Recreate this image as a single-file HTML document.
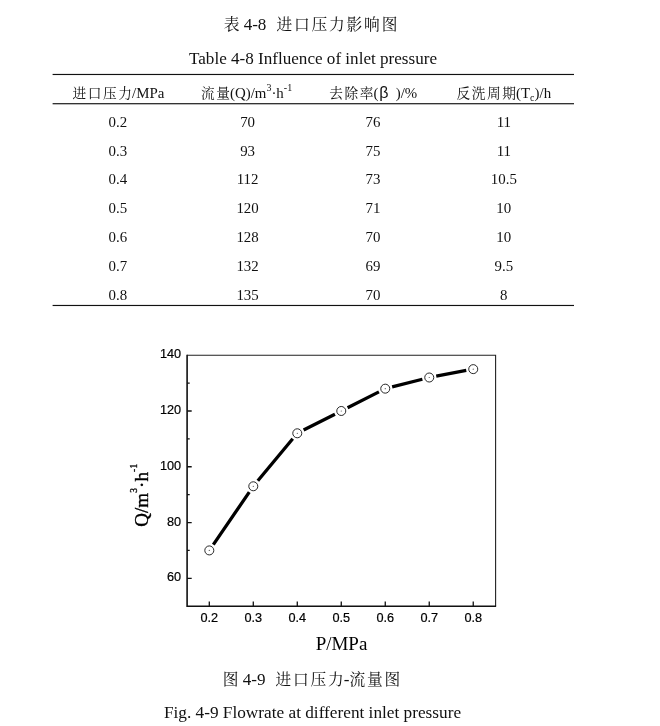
<!DOCTYPE html>
<html lang="zh"><head><meta charset="utf-8"><title>表 4-8 进口压力影响图</title>
<style>
html,body{margin:0;padding:0;background:#fff}
body{width:660px;height:726px;position:relative;overflow:hidden;color:#111;font-family:"Liberation Serif","Noto Serif CJK SC",serif}
text{white-space:pre;fill:#111}
.t1{font:17.1px "Liberation Serif","Noto Serif CJK SC",serif}
.c{font:14.9px "Liberation Serif","Noto Serif CJK SC",serif}
.t2{font-size:17.25px}
.s{font-size:10px}
.cj{font-size:92%;letter-spacing:0.115em}
.cl{font-size:92%}
.beta{font-family:"Liberation Sans",sans-serif;font-size:16px}
.tk{font:12.7px "Liberation Sans",sans-serif;fill:#000;stroke:#000;stroke-width:0.2px}
.ax{font:19px "Liberation Serif",serif;fill:#000}
.ay{letter-spacing:0.1px;stroke:#000;stroke-width:0.35px}
.sp{font-size:9.5px}
</style></head><body>

<svg width="660" height="726" viewBox="0 0 660 726" style="position:absolute;left:0;top:0">
<path d="M187.1 355.2H495.6V606.2" fill="none" stroke="#222" stroke-width="1.1"/>
<path d="M187.1 354.7V606.2H496.1" fill="none" stroke="#111" stroke-width="1.6"/>
<path d="M187.1 578.31h4.6M187.1 522.53h4.6M187.1 466.76h4.6M187.1 410.98h4.6M187.1 550.42h2.6M187.1 494.64h2.6M187.1 438.87h2.6M187.1 383.09h2.6M209.30 606.2v-4.8M253.29 606.2v-4.8M297.28 606.2v-4.8M341.27 606.2v-4.8M385.26 606.2v-4.8M429.25 606.2v-4.8M473.24 606.2v-4.8" fill="none" stroke="#111" stroke-width="1.3"/>
<path d="M213.32 544.57L249.27 492.13M257.83 480.81L292.74 438.75M303.61 430.08L334.94 414.19M347.60 407.77L378.93 391.88M392.14 386.92L422.37 379.26M436.22 376.18L466.27 370.47" fill="none" stroke="#000" stroke-width="3.3"/>
<circle cx="209.30" cy="550.42" r="4.5" fill="#fff" stroke="#111" stroke-width="0.9"/>
<circle cx="209.30" cy="550.42" r="0.6" fill="#555"/>
<circle cx="253.29" cy="486.28" r="4.5" fill="#fff" stroke="#111" stroke-width="0.9"/>
<circle cx="253.29" cy="486.28" r="0.6" fill="#555"/>
<circle cx="297.28" cy="433.29" r="4.5" fill="#fff" stroke="#111" stroke-width="0.9"/>
<circle cx="297.28" cy="433.29" r="0.6" fill="#555"/>
<circle cx="341.27" cy="410.98" r="4.5" fill="#fff" stroke="#111" stroke-width="0.9"/>
<circle cx="341.27" cy="410.98" r="0.6" fill="#555"/>
<circle cx="385.26" cy="388.67" r="4.5" fill="#fff" stroke="#111" stroke-width="0.9"/>
<circle cx="385.26" cy="388.67" r="0.6" fill="#555"/>
<circle cx="429.25" cy="377.51" r="4.5" fill="#fff" stroke="#111" stroke-width="0.9"/>
<circle cx="429.25" cy="377.51" r="0.6" fill="#555"/>
<circle cx="473.24" cy="369.14" r="4.5" fill="#fff" stroke="#111" stroke-width="0.9"/>
<circle cx="473.24" cy="369.14" r="0.6" fill="#555"/>
<text x="181.1" y="581.3" text-anchor="end" class="tk">60</text>
<text x="181.1" y="525.5" text-anchor="end" class="tk">80</text>
<text x="181.1" y="469.8" text-anchor="end" class="tk">100</text>
<text x="181.1" y="414.0" text-anchor="end" class="tk">120</text>
<text x="181.1" y="358.2" text-anchor="end" class="tk">140</text>
<text x="209.3" y="622" text-anchor="middle" class="tk">0.2</text>
<text x="253.3" y="622" text-anchor="middle" class="tk">0.3</text>
<text x="297.3" y="622" text-anchor="middle" class="tk">0.4</text>
<text x="341.3" y="622" text-anchor="middle" class="tk">0.5</text>
<text x="385.3" y="622" text-anchor="middle" class="tk">0.6</text>
<text x="429.2" y="622" text-anchor="middle" class="tk">0.7</text>
<text x="473.2" y="622" text-anchor="middle" class="tk">0.8</text>
<text x="341.5" y="649.7" text-anchor="middle" class="ax">P/MPa</text>
<text transform="translate(147.5 495.3) rotate(-90)" text-anchor="middle" class="ax ay">Q/m<tspan class="sp" dy="-10.5">3</tspan><tspan dy="10.5">·h</tspan><tspan class="sp" dy="-10.5">-1</tspan></text>
<text x="310.5" y="29.90" text-anchor="middle" class="t1"><tspan class="cl">表</tspan> 4-8  <tspan dx="1.5"><tspan class="cj">进口压力影响</tspan><tspan class="cl">图</tspan></tspan></text>
<text x="313" y="63.60" text-anchor="middle" class="t1">Table 4-8 Influence of inlet pressure</text>
<rect x="52.6" y="73.9" width="521.4" height="1.15" fill="#111"/>
<rect x="52.6" y="103.15" width="521.4" height="1.15" fill="#111"/>
<rect x="52.6" y="304.9" width="521.4" height="1.15" fill="#111"/>
<text x="118.4" y="98.00" text-anchor="middle" class="c"><tspan class="cj">进口压</tspan><tspan class="cl">力</tspan>/MPa</text>
<text x="246.6" y="98.00" text-anchor="middle" class="c"><tspan class="cj">流</tspan><tspan class="cl">量</tspan>(Q)/m<tspan class="s" dy="-7.5">3</tspan><tspan dy="7.5">·h</tspan><tspan class="s" dy="-7.5">-1</tspan></text>
<text x="373.2" y="98.00" text-anchor="middle" class="c"><tspan class="cj">去除</tspan><tspan class="cl">率</tspan>(<tspan class="beta" dx="0.8">β</tspan><tspan dx="7.3">)/%</tspan></text>
<text x="503.8" y="98.00" text-anchor="middle" class="c"><tspan class="cj">反洗周</tspan><tspan class="cl">期</tspan>(T<tspan class="s" dy="2.5">c</tspan><tspan dy="-2.5">)/h</tspan></text>
<text x="117.8" y="127.10" text-anchor="middle" class="c">0.2</text>
<text x="247.6" y="127.10" text-anchor="middle" class="c">70</text>
<text x="373" y="127.10" text-anchor="middle" class="c">76</text>
<text x="503.8" y="127.10" text-anchor="middle" class="c">11</text>
<text x="117.8" y="155.80" text-anchor="middle" class="c">0.3</text>
<text x="247.6" y="155.80" text-anchor="middle" class="c">93</text>
<text x="373" y="155.80" text-anchor="middle" class="c">75</text>
<text x="503.8" y="155.80" text-anchor="middle" class="c">11</text>
<text x="117.8" y="184.10" text-anchor="middle" class="c">0.4</text>
<text x="247.6" y="184.10" text-anchor="middle" class="c">112</text>
<text x="373" y="184.10" text-anchor="middle" class="c">73</text>
<text x="503.8" y="184.10" text-anchor="middle" class="c">10.5</text>
<text x="117.8" y="213.20" text-anchor="middle" class="c">0.5</text>
<text x="247.6" y="213.20" text-anchor="middle" class="c">120</text>
<text x="373" y="213.20" text-anchor="middle" class="c">71</text>
<text x="503.8" y="213.20" text-anchor="middle" class="c">10</text>
<text x="117.8" y="242.20" text-anchor="middle" class="c">0.6</text>
<text x="247.6" y="242.20" text-anchor="middle" class="c">128</text>
<text x="373" y="242.20" text-anchor="middle" class="c">70</text>
<text x="503.8" y="242.20" text-anchor="middle" class="c">10</text>
<text x="117.8" y="270.50" text-anchor="middle" class="c">0.7</text>
<text x="247.6" y="270.50" text-anchor="middle" class="c">132</text>
<text x="373" y="270.50" text-anchor="middle" class="c">69</text>
<text x="503.8" y="270.50" text-anchor="middle" class="c">9.5</text>
<text x="117.8" y="299.50" text-anchor="middle" class="c">0.8</text>
<text x="247.6" y="299.50" text-anchor="middle" class="c">135</text>
<text x="373" y="299.50" text-anchor="middle" class="c">70</text>
<text x="503.8" y="299.50" text-anchor="middle" class="c">8</text>
<text x="311.5" y="685.20" text-anchor="middle" class="t1"><tspan class="cl">图</tspan> 4-9  <tspan dx="1.5"><tspan class="cj">进口压</tspan><tspan class="cl">力</tspan>-<tspan class="cj">流量</tspan><tspan class="cl">图</tspan></tspan></text>
<text x="312.5" y="718.10" text-anchor="middle" class="t1 t2">Fig. 4-9 Flowrate at different inlet pressure</text>
</svg>
</body></html>
